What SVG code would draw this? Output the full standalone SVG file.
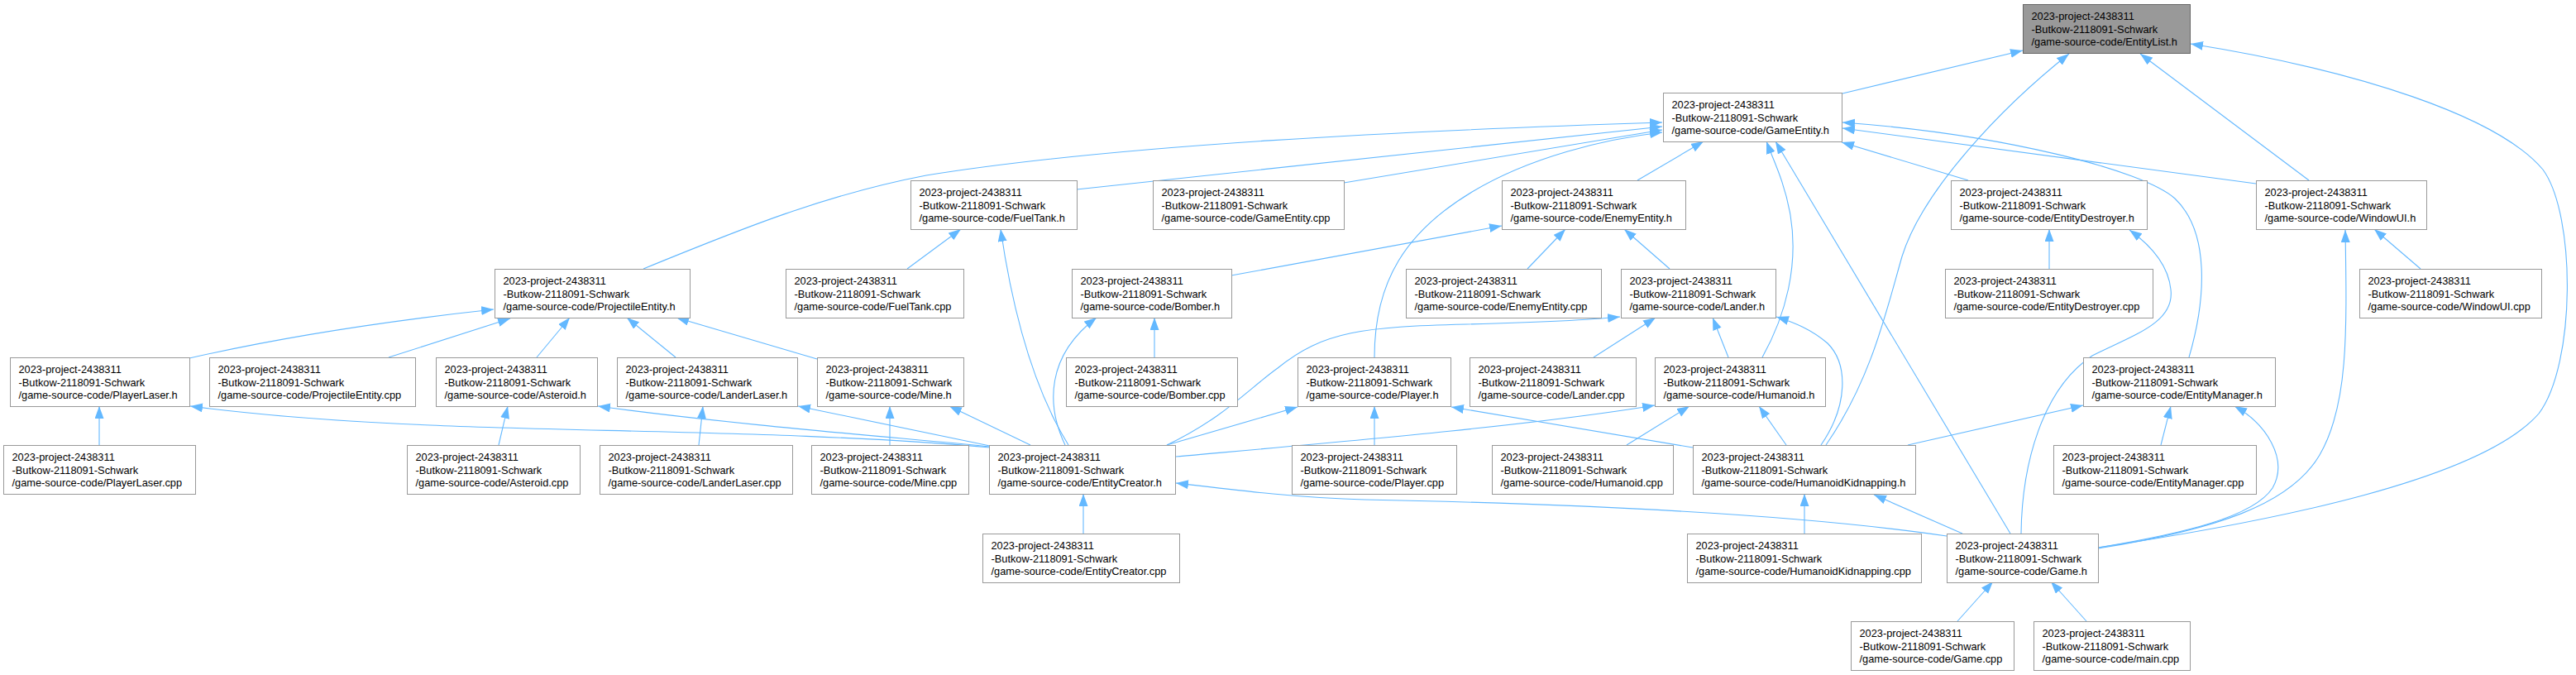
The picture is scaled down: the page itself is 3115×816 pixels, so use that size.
<svg xmlns="http://www.w3.org/2000/svg" width="3115" height="816" viewBox="0 0 3115 816">
<style>
.node rect{fill:#ffffff;stroke:#999999;stroke-width:1}
.root rect{fill:#999999;stroke:#666666}
.node text{font-family:"Liberation Sans",Arial,sans-serif;font-size:12.8px;fill:#000000}
#edges path{fill:none;stroke:#63b8ff;stroke-width:1.1;marker-end:url(#ah)}
</style>
<defs>
<marker id="ah" markerUnits="userSpaceOnUse" viewBox="0 0 16 12" markerWidth="16" markerHeight="12" refX="15" refY="5.5" orient="auto">
<path d="M0,0 L15,5.5 L0,11 z" fill="#63b8ff"/>
</marker>
</defs>
<rect width="3115" height="816" fill="#ffffff"/>
<g id="edges">
<path d="M2228,113 L2446,61"/>
<path d="M2792,218 L2588,65"/>
<path d="M2208,538 C2262,460 2280,380 2300,310 C2325,230 2420,130 2502,65"/>
<path d="M2537,662 C2750,630 3000,580 3070,500 C3115,440 3115,260 3075,205 C3020,140 2850,85 2649,53"/>
<path d="M778,325 C900,275 1000,235 1120,212 C1350,175 1700,158 2010,148"/>
<path d="M1302,229 L2010,153"/>
<path d="M1625,221 L2010,157"/>
<path d="M1662,432 C1662,340 1700,280 1780,232 C1850,190 1940,168 2010,160"/>
<path d="M1980,218 L2060,171"/>
<path d="M2131,432 C2160,380 2175,320 2165,260 C2158,220 2145,195 2136,171"/>
<path d="M2431,645 L2147,171"/>
<path d="M2380,218 L2227,172"/>
<path d="M2728,222 L2228,155"/>
<path d="M2647,432 C2668,360 2672,280 2630,240 C2590,205 2420,162 2228,148"/>
<path d="M229,433 C330,410 450,390 597,374"/>
<path d="M470,432 L617,385"/>
<path d="M649,432 L689,384"/>
<path d="M817,432 L758,384"/>
<path d="M988,434 L818,384"/>
<path d="M1197,541 C1000,522 700,522 520,514 C400,509 300,500 230,491"/>
<path d="M1197,540 C1100,530 900,515 723,491"/>
<path d="M1197,539 L965,491"/>
<path d="M1246,538 L1148,491"/>
<path d="M1076,538 L1076,491"/>
<path d="M603,538 L614,491"/>
<path d="M845,538 L850,491"/>
<path d="M120,538 L120,491"/>
<path d="M1097,325 L1162,277"/>
<path d="M1292,538 C1250,470 1225,380 1210,277"/>
<path d="M1288,538 C1265,490 1265,430 1326,384"/>
<path d="M1396,432 L1396,384"/>
<path d="M1489,333 L1816,273"/>
<path d="M1847,325 L1893,277"/>
<path d="M2019,325 L1964,277"/>
<path d="M1310,645 L1310,597"/>
<path d="M2354,648 C2150,618 1850,608 1650,604 C1570,602 1490,592 1422,584"/>
<path d="M1411,538 C1480,505 1510,470 1545,445 C1600,400 1650,395 1773,392 C1850,390 1910,388 1959,383"/>
<path d="M1411,538 L1569,492"/>
<path d="M1422,552 C1600,536 1850,515 2001,490"/>
<path d="M1662,538 L1662,491"/>
<path d="M2047,541 L1755,492"/>
<path d="M1927,432 L2002,384"/>
<path d="M1967,538 L2043,491"/>
<path d="M2090,432 L2071,384"/>
<path d="M2202,538 C2235,490 2235,440 2210,415 C2190,398 2170,390 2148,383"/>
<path d="M2160,538 L2127,491"/>
<path d="M2307,538 L2519,490"/>
<path d="M2182,645 L2182,597"/>
<path d="M2373,645 L2266,598"/>
<path d="M2478,325 L2478,277"/>
<path d="M2444,645 C2445,560 2470,470 2530,430 C2580,405 2630,390 2625,350 C2622,320 2600,296 2575,278"/>
<path d="M2927,325 L2871,277"/>
<path d="M2537,663 C2680,640 2770,610 2805,550 C2840,490 2838,400 2836,278"/>
<path d="M2537,662 C2640,645 2725,625 2748,590 C2768,555 2740,512 2702,491"/>
<path d="M2613,538 L2625,491"/>
<path d="M2367,751 L2410,703"/>
<path d="M2523,751 L2480,703"/>
</g>
<g id="EntityList_h" class="node root"><rect x="2446.5" y="5.5" width="202" height="59"/><text x="2456.5" y="24">2023-project-2438311<tspan x="2456.5" dy="15.6">-Butkow-2118091-Schwark</tspan><tspan x="2456.5" dy="15.6">/game-source-code/EntityList.h</tspan></text></g>
<g id="GameEntity_h" class="node"><rect x="2011.5" y="112.5" width="216" height="59"/><text x="2021.5" y="131">2023-project-2438311<tspan x="2021.5" dy="15.6">-Butkow-2118091-Schwark</tspan><tspan x="2021.5" dy="15.6">/game-source-code/GameEntity.h</tspan></text></g>
<g id="FuelTank_h" class="node"><rect x="1101.5" y="218.5" width="201" height="59"/><text x="1111.5" y="237">2023-project-2438311<tspan x="1111.5" dy="15.6">-Butkow-2118091-Schwark</tspan><tspan x="1111.5" dy="15.6">/game-source-code/FuelTank.h</tspan></text></g>
<g id="GameEntity_cpp" class="node"><rect x="1394.5" y="218.5" width="231" height="59"/><text x="1404.5" y="237">2023-project-2438311<tspan x="1404.5" dy="15.6">-Butkow-2118091-Schwark</tspan><tspan x="1404.5" dy="15.6">/game-source-code/GameEntity.cpp</tspan></text></g>
<g id="EnemyEntity_h" class="node"><rect x="1816.5" y="218.5" width="222" height="59"/><text x="1826.5" y="237">2023-project-2438311<tspan x="1826.5" dy="15.6">-Butkow-2118091-Schwark</tspan><tspan x="1826.5" dy="15.6">/game-source-code/EnemyEntity.h</tspan></text></g>
<g id="EntityDestroyer_h" class="node"><rect x="2359.5" y="218.5" width="237" height="59"/><text x="2369.5" y="237">2023-project-2438311<tspan x="2369.5" dy="15.6">-Butkow-2118091-Schwark</tspan><tspan x="2369.5" dy="15.6">/game-source-code/EntityDestroyer.h</tspan></text></g>
<g id="WindowUI_h" class="node"><rect x="2728.5" y="218.5" width="206" height="59"/><text x="2738.5" y="237">2023-project-2438311<tspan x="2738.5" dy="15.6">-Butkow-2118091-Schwark</tspan><tspan x="2738.5" dy="15.6">/game-source-code/WindowUI.h</tspan></text></g>
<g id="ProjectileEntity_h" class="node"><rect x="598.5" y="325.5" width="236" height="59"/><text x="608.5" y="344">2023-project-2438311<tspan x="608.5" dy="15.6">-Butkow-2118091-Schwark</tspan><tspan x="608.5" dy="15.6">/game-source-code/ProjectileEntity.h</tspan></text></g>
<g id="FuelTank_cpp" class="node"><rect x="950.5" y="325.5" width="215" height="59"/><text x="960.5" y="344">2023-project-2438311<tspan x="960.5" dy="15.6">-Butkow-2118091-Schwark</tspan><tspan x="960.5" dy="15.6">/game-source-code/FuelTank.cpp</tspan></text></g>
<g id="Bomber_h" class="node"><rect x="1296.5" y="325.5" width="193" height="59"/><text x="1306.5" y="344">2023-project-2438311<tspan x="1306.5" dy="15.6">-Butkow-2118091-Schwark</tspan><tspan x="1306.5" dy="15.6">/game-source-code/Bomber.h</tspan></text></g>
<g id="EnemyEntity_cpp" class="node"><rect x="1700.5" y="325.5" width="236" height="59"/><text x="1710.5" y="344">2023-project-2438311<tspan x="1710.5" dy="15.6">-Butkow-2118091-Schwark</tspan><tspan x="1710.5" dy="15.6">/game-source-code/EnemyEntity.cpp</tspan></text></g>
<g id="Lander_h" class="node"><rect x="1960.5" y="325.5" width="187" height="59"/><text x="1970.5" y="344">2023-project-2438311<tspan x="1970.5" dy="15.6">-Butkow-2118091-Schwark</tspan><tspan x="1970.5" dy="15.6">/game-source-code/Lander.h</tspan></text></g>
<g id="EntityDestroyer_cpp" class="node"><rect x="2352.5" y="325.5" width="251" height="59"/><text x="2362.5" y="344">2023-project-2438311<tspan x="2362.5" dy="15.6">-Butkow-2118091-Schwark</tspan><tspan x="2362.5" dy="15.6">/game-source-code/EntityDestroyer.cpp</tspan></text></g>
<g id="WindowUI_cpp" class="node"><rect x="2853.5" y="325.5" width="220" height="59"/><text x="2863.5" y="344">2023-project-2438311<tspan x="2863.5" dy="15.6">-Butkow-2118091-Schwark</tspan><tspan x="2863.5" dy="15.6">/game-source-code/WindowUI.cpp</tspan></text></g>
<g id="PlayerLaser_h" class="node"><rect x="12.5" y="432.5" width="217" height="59"/><text x="22.5" y="451">2023-project-2438311<tspan x="22.5" dy="15.6">-Butkow-2118091-Schwark</tspan><tspan x="22.5" dy="15.6">/game-source-code/PlayerLaser.h</tspan></text></g>
<g id="ProjectileEntity_cpp" class="node"><rect x="253.5" y="432.5" width="249" height="59"/><text x="263.5" y="451">2023-project-2438311<tspan x="263.5" dy="15.6">-Butkow-2118091-Schwark</tspan><tspan x="263.5" dy="15.6">/game-source-code/ProjectileEntity.cpp</tspan></text></g>
<g id="Asteroid_h" class="node"><rect x="527.5" y="432.5" width="195" height="59"/><text x="537.5" y="451">2023-project-2438311<tspan x="537.5" dy="15.6">-Butkow-2118091-Schwark</tspan><tspan x="537.5" dy="15.6">/game-source-code/Asteroid.h</tspan></text></g>
<g id="LanderLaser_h" class="node"><rect x="746.5" y="432.5" width="218" height="59"/><text x="756.5" y="451">2023-project-2438311<tspan x="756.5" dy="15.6">-Butkow-2118091-Schwark</tspan><tspan x="756.5" dy="15.6">/game-source-code/LanderLaser.h</tspan></text></g>
<g id="Mine_h" class="node"><rect x="988.5" y="432.5" width="177" height="59"/><text x="998.5" y="451">2023-project-2438311<tspan x="998.5" dy="15.6">-Butkow-2118091-Schwark</tspan><tspan x="998.5" dy="15.6">/game-source-code/Mine.h</tspan></text></g>
<g id="Bomber_cpp" class="node"><rect x="1289.5" y="432.5" width="207" height="59"/><text x="1299.5" y="451">2023-project-2438311<tspan x="1299.5" dy="15.6">-Butkow-2118091-Schwark</tspan><tspan x="1299.5" dy="15.6">/game-source-code/Bomber.cpp</tspan></text></g>
<g id="Player_h" class="node"><rect x="1569.5" y="432.5" width="185" height="59"/><text x="1579.5" y="451">2023-project-2438311<tspan x="1579.5" dy="15.6">-Butkow-2118091-Schwark</tspan><tspan x="1579.5" dy="15.6">/game-source-code/Player.h</tspan></text></g>
<g id="Lander_cpp" class="node"><rect x="1777.5" y="432.5" width="201" height="59"/><text x="1787.5" y="451">2023-project-2438311<tspan x="1787.5" dy="15.6">-Butkow-2118091-Schwark</tspan><tspan x="1787.5" dy="15.6">/game-source-code/Lander.cpp</tspan></text></g>
<g id="Humanoid_h" class="node"><rect x="2001.5" y="432.5" width="206" height="59"/><text x="2011.5" y="451">2023-project-2438311<tspan x="2011.5" dy="15.6">-Butkow-2118091-Schwark</tspan><tspan x="2011.5" dy="15.6">/game-source-code/Humanoid.h</tspan></text></g>
<g id="EntityManager_h" class="node"><rect x="2519.5" y="432.5" width="232" height="59"/><text x="2529.5" y="451">2023-project-2438311<tspan x="2529.5" dy="15.6">-Butkow-2118091-Schwark</tspan><tspan x="2529.5" dy="15.6">/game-source-code/EntityManager.h</tspan></text></g>
<g id="PlayerLaser_cpp" class="node"><rect x="4.5" y="538.5" width="232" height="59"/><text x="14.5" y="557">2023-project-2438311<tspan x="14.5" dy="15.6">-Butkow-2118091-Schwark</tspan><tspan x="14.5" dy="15.6">/game-source-code/PlayerLaser.cpp</tspan></text></g>
<g id="Asteroid_cpp" class="node"><rect x="492.5" y="538.5" width="209" height="59"/><text x="502.5" y="557">2023-project-2438311<tspan x="502.5" dy="15.6">-Butkow-2118091-Schwark</tspan><tspan x="502.5" dy="15.6">/game-source-code/Asteroid.cpp</tspan></text></g>
<g id="LanderLaser_cpp" class="node"><rect x="725.5" y="538.5" width="233" height="59"/><text x="735.5" y="557">2023-project-2438311<tspan x="735.5" dy="15.6">-Butkow-2118091-Schwark</tspan><tspan x="735.5" dy="15.6">/game-source-code/LanderLaser.cpp</tspan></text></g>
<g id="Mine_cpp" class="node"><rect x="981.5" y="538.5" width="190" height="59"/><text x="991.5" y="557">2023-project-2438311<tspan x="991.5" dy="15.6">-Butkow-2118091-Schwark</tspan><tspan x="991.5" dy="15.6">/game-source-code/Mine.cpp</tspan></text></g>
<g id="EntityCreator_h" class="node"><rect x="1196.5" y="538.5" width="225" height="59"/><text x="1206.5" y="557">2023-project-2438311<tspan x="1206.5" dy="15.6">-Butkow-2118091-Schwark</tspan><tspan x="1206.5" dy="15.6">/game-source-code/EntityCreator.h</tspan></text></g>
<g id="Player_cpp" class="node"><rect x="1562.5" y="538.5" width="199" height="59"/><text x="1572.5" y="557">2023-project-2438311<tspan x="1572.5" dy="15.6">-Butkow-2118091-Schwark</tspan><tspan x="1572.5" dy="15.6">/game-source-code/Player.cpp</tspan></text></g>
<g id="Humanoid_cpp" class="node"><rect x="1804.5" y="538.5" width="219" height="59"/><text x="1814.5" y="557">2023-project-2438311<tspan x="1814.5" dy="15.6">-Butkow-2118091-Schwark</tspan><tspan x="1814.5" dy="15.6">/game-source-code/Humanoid.cpp</tspan></text></g>
<g id="HumanoidKidnapping_h" class="node"><rect x="2047.5" y="538.5" width="269" height="59"/><text x="2057.5" y="557">2023-project-2438311<tspan x="2057.5" dy="15.6">-Butkow-2118091-Schwark</tspan><tspan x="2057.5" dy="15.6">/game-source-code/HumanoidKidnapping.h</tspan></text></g>
<g id="EntityManager_cpp" class="node"><rect x="2483.5" y="538.5" width="245" height="59"/><text x="2493.5" y="557">2023-project-2438311<tspan x="2493.5" dy="15.6">-Butkow-2118091-Schwark</tspan><tspan x="2493.5" dy="15.6">/game-source-code/EntityManager.cpp</tspan></text></g>
<g id="EntityCreator_cpp" class="node"><rect x="1188.5" y="645.5" width="238" height="59"/><text x="1198.5" y="664">2023-project-2438311<tspan x="1198.5" dy="15.6">-Butkow-2118091-Schwark</tspan><tspan x="1198.5" dy="15.6">/game-source-code/EntityCreator.cpp</tspan></text></g>
<g id="HumanoidKidnapping_cpp" class="node"><rect x="2040.5" y="645.5" width="283" height="59"/><text x="2050.5" y="664">2023-project-2438311<tspan x="2050.5" dy="15.6">-Butkow-2118091-Schwark</tspan><tspan x="2050.5" dy="15.6">/game-source-code/HumanoidKidnapping.cpp</tspan></text></g>
<g id="Game_h" class="node"><rect x="2354.5" y="645.5" width="183" height="59"/><text x="2364.5" y="664">2023-project-2438311<tspan x="2364.5" dy="15.6">-Butkow-2118091-Schwark</tspan><tspan x="2364.5" dy="15.6">/game-source-code/Game.h</tspan></text></g>
<g id="Game_cpp" class="node"><rect x="2238.5" y="751.5" width="197" height="59"/><text x="2248.5" y="770">2023-project-2438311<tspan x="2248.5" dy="15.6">-Butkow-2118091-Schwark</tspan><tspan x="2248.5" dy="15.6">/game-source-code/Game.cpp</tspan></text></g>
<g id="main_cpp" class="node"><rect x="2459.5" y="751.5" width="189" height="59"/><text x="2469.5" y="770">2023-project-2438311<tspan x="2469.5" dy="15.6">-Butkow-2118091-Schwark</tspan><tspan x="2469.5" dy="15.6">/game-source-code/main.cpp</tspan></text></g>
</svg>
